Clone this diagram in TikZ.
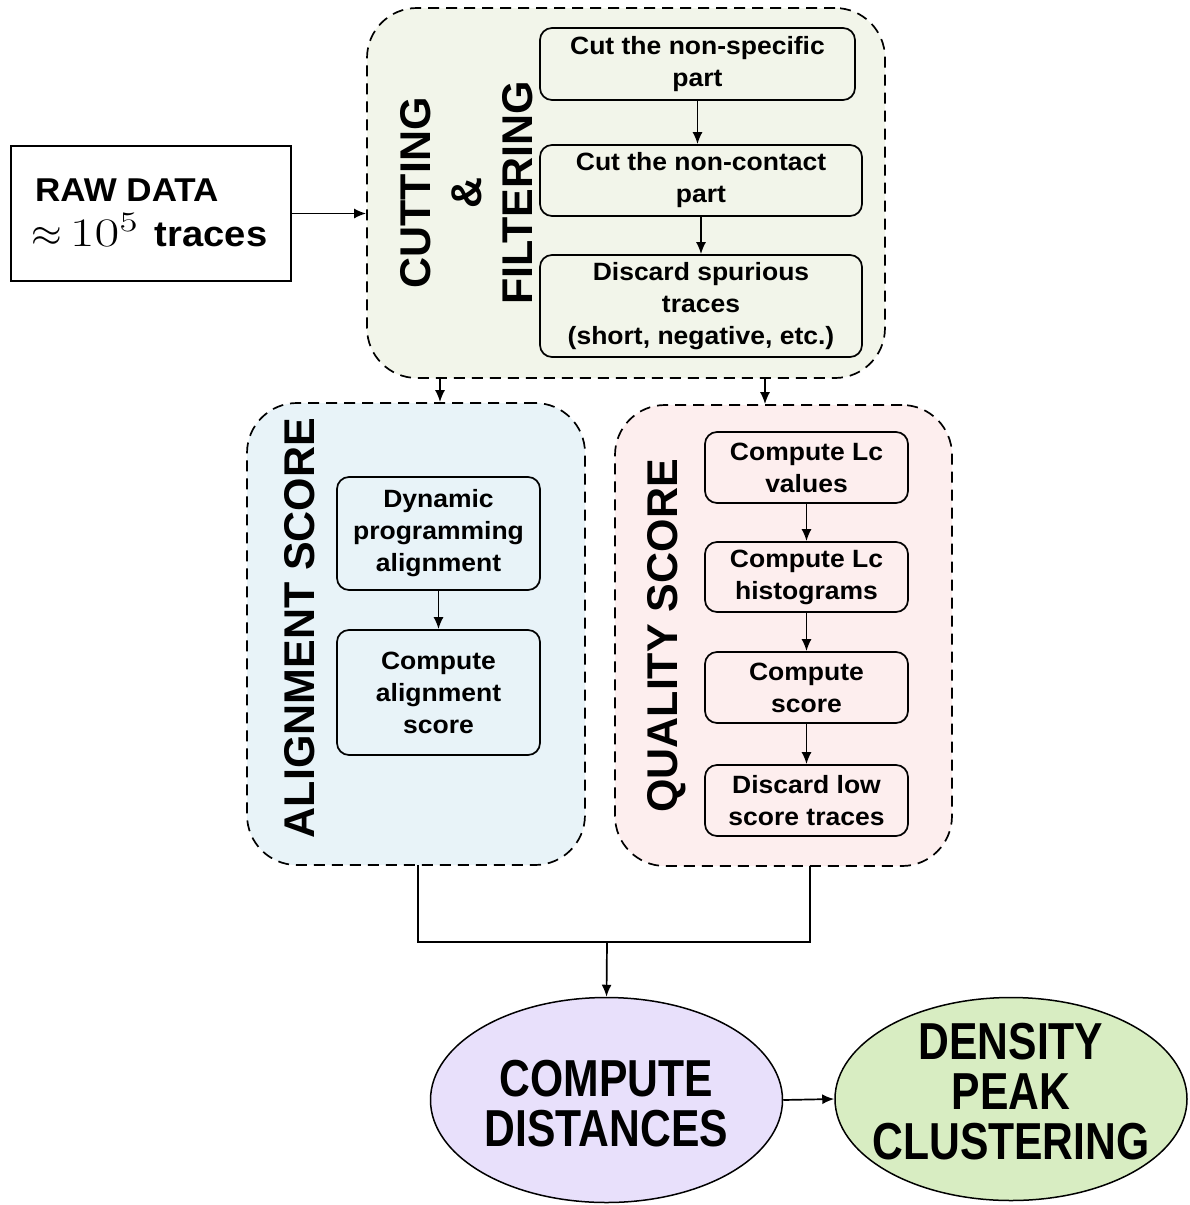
\documentclass[tikz,border=0pt]{standalone}
\usepackage{graphicx}
\usepackage{fontspec}
\setmainfont{Liberation Sans}
\newfontfamily\narrowfont[FakeStretch=0.82]{Liberation Sans}
\newfontfamily\widefont[FakeStretch=1.06]{Liberation Sans}
\usetikzlibrary{arrows.meta,shapes.geometric}
\definecolor{cutfill}{HTML}{F2F5EA}
\definecolor{alifill}{HTML}{E8F3F8}
\definecolor{qualfill}{HTML}{FDEEEE}
\definecolor{ellA}{HTML}{E8E0FB}
\definecolor{ellB}{HTML}{D8EDC2}
\tikzset{
  container/.style={draw, line width=1.7pt, dash pattern=on 11pt off 7pt, rounded corners=50pt, inner sep=0pt},
  stepbox/.style={draw, line width=1.7pt, rounded corners=12pt, inner sep=0pt, align=center,
    font=\fontsize{25}{32}\selectfont\widefont\bfseries},
  biglabel/.style={rotate=90, align=center, font=\fontsize{43}{51}\selectfont\bfseries},
  ell/.style={ellipse, draw, line width=1.5pt, inner sep=0pt},
  elltext/.style={align=center, inner sep=0pt, font=\fontsize{52}{50}\selectfont\narrowfont\bfseries},
  arr/.style={-{Latex[length=12pt,width=10pt]}, line width=1.7pt},
  conn/.style={line width=1.7pt}
}
\begin{document}
\begin{tikzpicture}[x=1pt,y=-1pt]
\useasboundingbox (0,0) rectangle (1189,1205);
% raw data
\node[draw, line width=1.5pt, minimum width=280pt, minimum height=135pt, inner sep=0pt] (raw) at (151,213.5) {};
\node[anchor=base west, inner sep=0pt, font=\fontsize{33}{40}\selectfont\widefont\bfseries] (rawt1) at (35,201) {RAW DATA};
\node[anchor=base west, inner sep=0pt, font=\fontsize{36}{40}\selectfont\widefont\bfseries] (rawt2) at (31,246)
  {{\fontsize{20}{24}\selectfont\scalebox{1.9}{$\approx$}\hspace{8pt}\scalebox{2.6}[1.95]{$10^5$}}\hspace{16pt}traces};
% containers
\node[container, fill=cutfill, minimum width=518pt, minimum height=370pt] (cut) at (626,193) {};
\node[container, fill=alifill, minimum width=338pt, minimum height=462pt] (align) at (416,634) {};
\node[container, fill=qualfill, minimum width=337pt, minimum height=461pt] (qual) at (783.5,635.5) {};
% labels
\node[biglabel] (cutlab) at (467,193) {CUTTING\\\&\\FILTERING};
\node[biglabel] (alilab) at (300,628) {ALIGNMENT SCORE};
\node[biglabel] (quallab) at (667,636) {QUALITY SCORE};
% cutting steps
\node[stepbox, minimum width=315pt, minimum height=72pt] (c1) at (697.5,64) {Cut the non-specific\\part};
\node[stepbox, minimum width=322pt, minimum height=71pt] (c2) at (701,180.5) {Cut the non-contact\\part};
\node[stepbox, minimum width=322pt, minimum height=102pt] (c3) at (701,306) {Discard spurious\\traces\\(short, negative, etc.)};
% alignment steps
\node[stepbox, minimum width=203pt, minimum height=113pt] (d1) at (438.5,533.5) {Dynamic\\programming\\alignment};
\node[stepbox, minimum width=203pt, minimum height=125pt] (d2) at (438.5,692.5) {Compute\\alignment\\score};
% quality steps
\node[stepbox, minimum width=203pt, minimum height=71pt] (q1) at (806.5,467.5) {Compute Lc\\values};
\node[stepbox, minimum width=203pt, minimum height=70pt] (q2) at (806.5,577) {Compute Lc\\histograms};
\node[stepbox, minimum width=203pt, minimum height=71pt] (q3) at (806.5,687.5) {Compute\\score};
\node[stepbox, minimum width=203pt, minimum height=71pt] (q4) at (806.5,800.5) {Discard low\\score traces};
% ellipses
\node[ell, fill=ellA, minimum width=352pt, minimum height=205pt] (e1) at (606.5,1100) {};
\node[elltext] (e1t) at (606.5,1104) {COMPUTE\\DISTANCES};
\node[ell, fill=ellB, minimum width=352pt, minimum height=203pt] (e2) at (1011,1099) {};
\node[elltext] (e2t) at (1011,1092) {DENSITY\\PEAK\\CLUSTERING};
% connectors
\draw[arr] (raw.east) -- (raw.east -| cut.west);
\draw[arr] (c1.south) -- (c1.south |- c2.north);
\draw[arr] (c2.south) -- (c2.south |- c3.north);
\draw[arr] (d1.south) -- (d2.north);
\draw[arr] (q1.south) -- (q2.north);
\draw[arr] (q2.south) -- (q3.north);
\draw[arr] (q3.south) -- (q4.north);
\coordinate (ain) at (440,378);
\coordinate (qin) at (765,378);
\draw[arr] (ain) -- (ain |- align.north);
\draw[arr] (qin) -- (qin |- qual.north);
\coordinate (aout) at (418,865);
\coordinate (qout) at (810,866);
\coordinate (join) at (607,942);
\draw[conn] (aout) |- (join) -| (qout);
\draw[arr] (join) -- (e1.north);
\draw[arr] (e1.east) -- (e2.west);
\end{tikzpicture}
\end{document}
